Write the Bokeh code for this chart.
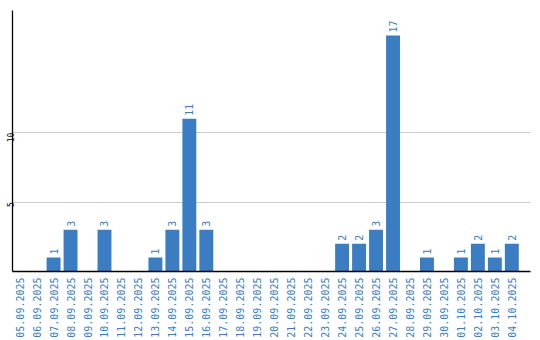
from bokeh.plotting import figure
from bokeh.models import ColumnDataSource, FixedTicker
from bokeh.core.properties import value
from bokeh.embed import file_html
from bokeh.resources import INLINE
import math

dates = ["05.09.2025", "06.09.2025", "07.09.2025", "08.09.2025", "09.09.2025",
         "10.09.2025", "11.09.2025", "12.09.2025", "13.09.2025", "14.09.2025",
         "15.09.2025", "16.09.2025", "17.09.2025", "18.09.2025", "19.09.2025",
         "20.09.2025", "21.09.2025", "22.09.2025", "23.09.2025", "24.09.2025",
         "25.09.2025", "26.09.2025", "27.09.2025", "28.09.2025", "29.09.2025",
         "30.09.2025", "01.10.2025", "02.10.2025", "03.10.2025", "04.10.2025"]
counts = [0, 0, 1, 3, 0, 3, 0, 0, 1, 3, 11, 3, 0, 0, 0, 0, 0, 0, 0, 2,
          2, 3, 17, 0, 1, 0, 1, 2, 1, 2]
y_ticks = [5, 10]

BLUE = "#3a7dc3"
FONT = "DejaVu Sans Mono"

xs = list(range(len(dates)))
src = ColumnDataSource(dict(x=xs, y=counts))
nz = [i for i, c in enumerate(counts) if c > 0]
lab = ColumnDataSource(dict(x=[xs[i] for i in nz], y=[counts[i] for i in nz],
                            t=[str(counts[i]) for i in nz]))

p = figure(width=540, height=340, output_backend="svg", toolbar_location=None,
           x_range=(-0.42, 30.1), y_range=(0, 18.8))
p.min_border_top = 10
p.min_border_right = 10
p.min_border_left = 0
p.min_border_bottom = 0
p.outline_line_color = None
p.background_fill_color = "white"
p.border_fill_color = "white"

p.vbar(x="x", top="y", width=0.82, source=src, color=BLUE, line_color=None)
p.text(x="x", y="y", text="t", source=lab, angle=math.pi / 2, y_offset=-3,
       text_align="left", text_baseline="middle", text_color=BLUE,
       text_font=value(FONT), text_font_size="10px")

for ax in (p.xaxis, p.yaxis):
    ax.major_tick_out = 0
    ax.major_tick_in = 0
    ax.minor_tick_out = 0
    ax.minor_tick_in = 0
    ax.major_tick_line_color = None
    ax.minor_tick_line_color = None
    ax.axis_line_color = "black"
    ax.axis_line_width = 1.3

p.xaxis.ticker = FixedTicker(ticks=xs)
p.xaxis.major_label_overrides = {i: d for i, d in enumerate(dates)}
p.xaxis.major_label_orientation = math.pi / 2
p.xaxis.major_label_text_color = BLUE
p.xaxis.major_label_text_font = FONT
p.xaxis.major_label_text_font_size = "10px"
p.xaxis.major_label_standoff = 6

p.yaxis.ticker = FixedTicker(ticks=y_ticks)
p.yaxis.major_label_orientation = math.pi / 2
p.yaxis.major_label_text_color = "black"
p.yaxis.major_label_text_font = FONT
p.yaxis.major_label_text_font_size = "8px"
p.yaxis.major_label_standoff = 2

p.xgrid.grid_line_color = None
p.ygrid.ticker = FixedTicker(ticks=y_ticks)
p.ygrid.grid_line_color = "#cccccc"

open("out.html", "w").write(file_html(p, INLINE))
